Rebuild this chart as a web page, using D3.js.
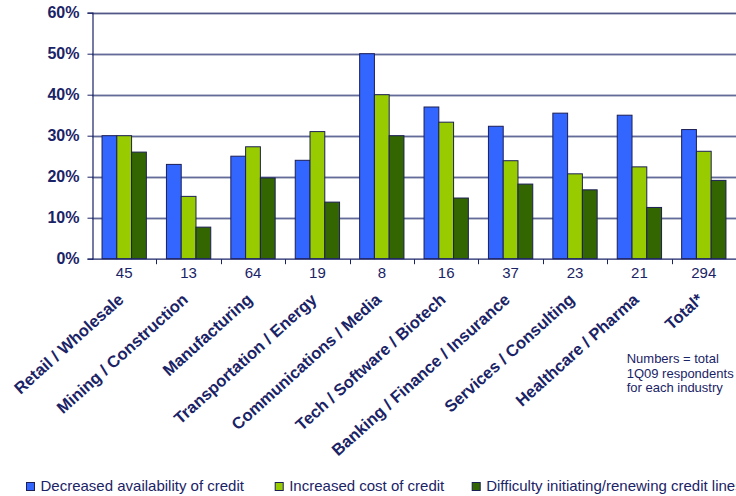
<!DOCTYPE html>
<html>
<head>
<meta charset="utf-8">
<script src="https://cdn.jsdelivr.net/npm/d3@7"></script>
<style>
  html, body { margin: 0; padding: 0; background: #fff; }
  svg { display: block; font-family: "Liberation Sans", Arial, sans-serif; }
</style>
</head>
<body>
<svg id="chart" width="736" height="496"></svg>
<script>
// Industries and number of respondents per industry
const categories = [
  "Retail / Wholesale", "Mining / Construction", "Manufacturing",
  "Transportation / Energy", "Communications / Media", "Tech / Software / Biotech",
  "Banking / Finance / Insurance", "Services / Consulting", "Healthcare / Pharma", "Total*"
];
const respondents = [45, 13, 64, 19, 8, 16, 37, 23, 21, 294];

// Share of respondents (%) reporting each credit problem
const seriesNames = [
  "Decreased availability of credit",
  "Increased cost of credit",
  "Difficulty initiating/renewing credit lines"
];
const decreasedAvailability = [30, 23, 25, 24, 50, 37, 32.3, 35.5, 35, 31.5];
const increasedCost        = [30, 15.2, 27.3, 31, 40, 33.3, 23.9, 20.7, 22.4, 26.2];
const difficultyRenewing   = [26, 7.7, 19.7, 13.8, 30, 14.8, 18.2, 16.8, 12.5, 19.1];

const yTicks = [0, 10, 20, 30, 40, 50, 60];
const noteLines = ["Numbers = total", "1Q09 respondents", "for each industry"];

const seriesValues = [decreasedAvailability, increasedCost, difficultyRenewing];
const colors = ["#3366FF", "#99CC00", "#336600"];
const navy = "#1A2366";
const barStroke = "#1C1F55";

const svg = d3.select("#chart");
const plot = { left: 92, right: 736, top: 12.7, bottom: 258.7 };

const x = d3.scaleBand().domain(categories).range([plot.left, plot.right]).padding(0);
const xs = d3.scaleBand().domain(seriesNames).range([0, x.bandwidth()])
  .paddingInner(0).paddingOuter(0.68);
const y = d3.scaleLinear().domain([0, 60]).range([plot.bottom, plot.top]);

// Gridlines with a soft shadow underneath
const grid = svg.append("g");
yTicks.filter(t => t > 0).forEach(t => {
  grid.append("line")
    .attr("x1", plot.left).attr("x2", plot.right)
    .attr("y1", y(t) + 1.5).attr("y2", y(t) + 1.5)
    .attr("stroke", "#A4A8BE").attr("stroke-width", 1);
  grid.append("line")
    .attr("x1", plot.left).attr("x2", plot.right)
    .attr("y1", y(t) + 0.5).attr("y2", y(t) + 0.5)
    .attr("stroke", t === 60 ? "#101A5C" : "#2A3575").attr("stroke-width", 1);
});

// Bars
const groups = svg.append("g").selectAll("g")
  .data(categories)
  .join("g")
  .attr("transform", d => `translate(${x(d)},0)`);

groups.selectAll("rect")
  .data((d, i) => seriesNames.map((s, j) => ({ s, j, v: seriesValues[j][i] })))
  .join("rect")
  .attr("x", d => xs(d.s))
  .attr("width", xs.bandwidth())
  .attr("y", d => y(d.v))
  .attr("height", d => y(0) - y(d.v))
  .attr("fill", d => colors[d.j])
  .attr("stroke", barStroke)
  .attr("stroke-width", 1);

// Y axis
const yAxis = svg.append("g").attr("transform", `translate(${plot.left + 0.5},0)`)
  .call(d3.axisLeft(y).tickValues(yTicks).tickSize(5).tickPadding(8).tickFormat(d => d + "%"));
yAxis.select(".domain").attr("stroke", navy).attr("stroke-width", 1.2);
yAxis.selectAll(".tick line").attr("stroke", navy);
yAxis.selectAll(".tick text")
  .attr("fill", navy).attr("font-size", 16).attr("font-weight", "bold")
  .attr("font-family", "'Liberation Sans', Arial, sans-serif");

// X baseline with ticks between categories
const xAxis = svg.append("g").attr("transform", `translate(0,${plot.bottom + 0.5})`);
xAxis.append("line").attr("x1", plot.left).attr("x2", plot.right)
  .attr("stroke", navy).attr("stroke-width", 1.2);
categories.slice(1).forEach(c => {
  xAxis.append("line").attr("x1", Math.round(x(c)) + 0.5).attr("x2", Math.round(x(c)) + 0.5)
    .attr("y1", 0).attr("y2", 5).attr("stroke", navy);
});

// Respondent counts under each group
svg.append("g").selectAll("text")
  .data(categories)
  .join("text")
  .attr("x", d => x(d) + x.bandwidth() / 2)
  .attr("y", 278)
  .attr("text-anchor", "middle")
  .attr("font-size", 15)
  .attr("fill", navy)
  .text((d, i) => respondents[i]);

// Rotated industry names
svg.append("g").selectAll("text")
  .data(categories)
  .join("text")
  .attr("transform", d => `translate(${x(d) + x.bandwidth() / 2 + 0.5},301) rotate(-42)`)
  .attr("text-anchor", "end")
  .attr("font-size", 16.5)
  .attr("font-weight", "bold")
  .attr("fill", navy)
  .text(d => d);

// Footnote
svg.append("text")
  .attr("x", 626.7).attr("y", 363.3)
  .attr("font-size", 13).attr("fill", navy)
  .selectAll("tspan")
  .data(noteLines)
  .join("tspan")
  .attr("x", 626.7)
  .attr("dy", (d, i) => i === 0 ? 0 : 14.5)
  .text(d => d);

// Legend
const legendX = [26, 274.7, 471.7];
const legend = svg.append("g").selectAll("g")
  .data(seriesNames)
  .join("g")
  .attr("transform", (d, i) => `translate(${legendX[i]},0)`);
legend.append("rect")
  .attr("x", 0.5).attr("y", 482.5).attr("width", 8).attr("height", 8)
  .attr("fill", (d, i) => colors[i]).attr("stroke", barStroke);
legend.append("text")
  .attr("x", 14.5).attr("y", 490.7)
  .attr("font-size", 15).attr("fill", navy)
  .text(d => d);
</script>
</body>
</html>
